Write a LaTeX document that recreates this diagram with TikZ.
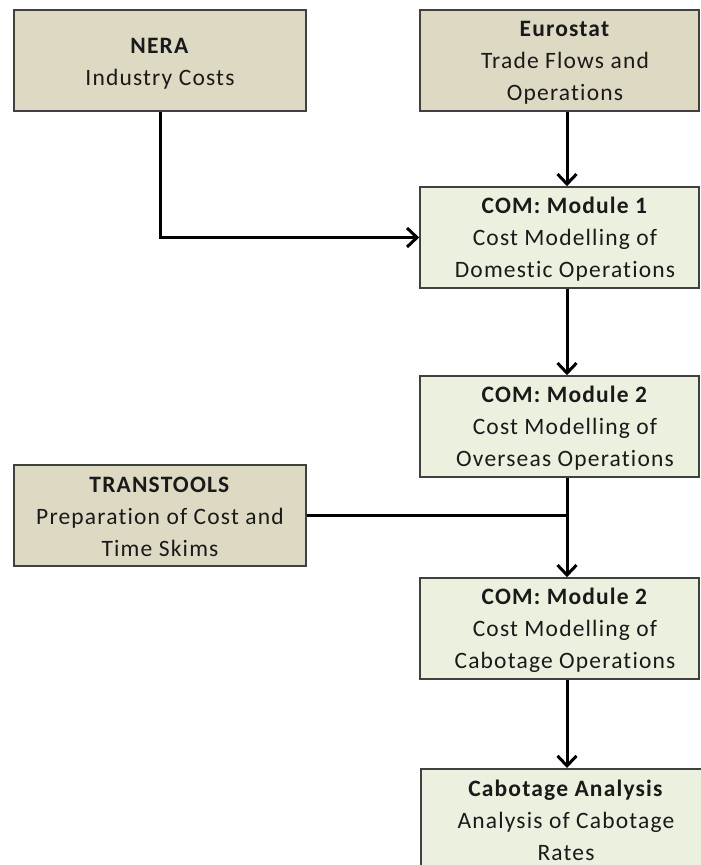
\documentclass[tikz,border=0pt]{standalone}
\usepackage{fontspec}
\setmainfont{Carlito}[LetterSpace=5, Ligatures={NoCommon,NoContextual}]
\usetikzlibrary{arrows.meta}
\definecolor{tanfill}{HTML}{DDD9C3}
\definecolor{greenfill}{HTML}{EBF1DE}
\definecolor{boxline}{HTML}{404040}
\definecolor{txt}{HTML}{1A1A1A}
\begin{document}
\begin{tikzpicture}[x=1pt,y=-1pt,
  box/.style={draw=boxline, line width=1.6pt, rectangle, inner sep=0pt},
  tanbox/.style={box, fill=tanfill, minimum width=292pt, minimum height=101pt},
  greenbox/.style={box, fill=greenfill, minimum width=279pt, minimum height=101pt},
  label text/.style={inner sep=0pt, align=center, text=txt, font=\fontsize{23.5}{32}\selectfont},
  flow/.style={line width=3pt, -{Straight Barb[length=10pt,width=19pt,line width=3pt]}},
  conn/.style={line width=3pt}]
\clip (0,0) rectangle (701,865);
\fill[white] (0,0) rectangle (701,865);

% boxes
\node[tanbox] (nera) at (160,60.5) {};
\node[tanbox, minimum width=279pt] (euro) at (559.5,60.5) {};
\node[greenbox] (m1) at (559.5,237.5) {};
\node[greenbox] (m2) at (559.5,426.5) {};
\node[tanbox] (tt) at (160,515.5) {};
\node[greenbox] (m3) at (559.5,628.5) {};
\node[greenbox, minimum width=300pt, minimum height=110pt, anchor=north west] (ca) at (420,768) {};

% texts
\node[label text] (nera-t) at (160,63.5) {\textbf{NERA}\\Industry Costs};
\node[label text] (euro-t) at (565,62.5) {\textbf{Eurostat}\\Trade Flows and\\Operations};
\node[label text] (m1-t) at (565,239.5) {\textbf{COM: Module 1}\\Cost Modelling of\\Domestic Operations};
\node[label text] (m2-t) at (565,428) {\textbf{COM: Module 2}\\Cost Modelling of\\Overseas Operations};
\node[label text] (tt-t) at (160,517) {\textbf{TRANSTOOLS}\\Preparation of Cost and\\Time Skims};
\node[label text] (m3-t) at (565,630.5) {\textbf{COM: Module 2}\\Cost Modelling of\\Cabotage Operations};
\node[label text] (ca-t) at (566,820) {\textbf{Cabotage Analysis}\\Analysis of Cabotage\\Rates};

\coordinate (ax) at (567,0);

\draw[flow] (euro.south -| ax) -- (m1.north -| ax);
\draw[flow] (nera.south) |- (m1.west);
\draw[flow] (m1.south -| ax) -- (m2.north -| ax);
\draw[conn] (tt.east) -- (tt.east -| ax);
\draw[flow] (m2.south -| ax) -- (m3.north -| ax);
\draw[flow] (m3.south -| ax) -- (ca.north -| ax);
\end{tikzpicture}
\end{document}
